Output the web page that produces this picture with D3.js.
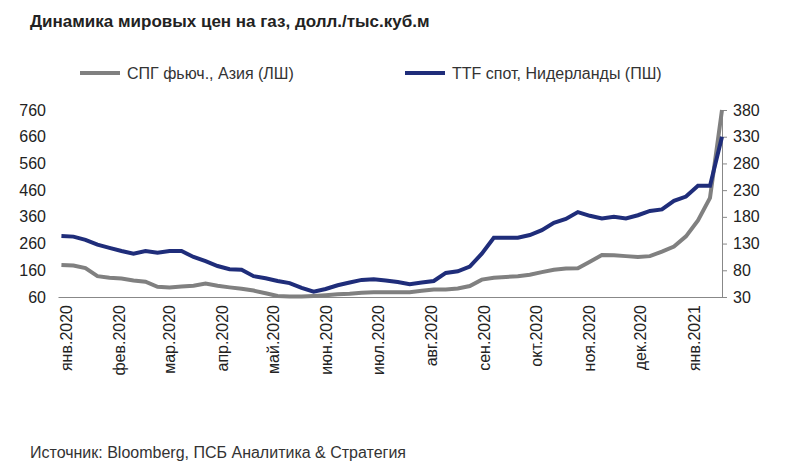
<!DOCTYPE html>
<html><head><meta charset="utf-8">
<script src="https://cdn.jsdelivr.net/npm/d3@7"></script>
<style>body{margin:0;background:#fff}text{font-family:"Liberation Sans",Arial,sans-serif}</style>
</head><body><svg id="c" width="800" height="475"></svg>
<script>
// weekly quotes, first week starting 3 Jan 2020
var lngAsia = [180,178,168,138,132,129,122,117,98,96,99,102,110,102,96,91,84,74,64,62,62,64,67,70,72,76,78,78,78,78,83,88,88,92,101,125,132,135,138,143,153,162,167,168,192,217,216,213,210,213,230,249,287,347,431,760];
var ttfSpot = [144,143,137,128,122,116,111,116,113,116,116,105,97,88,82,81,69,65,60,56,47,40,45,52,57,62,63,61,58,54,57,60,75,78,87,111,141,141,141,146,155,169,176,189,182,177,180,177,183,191,194,210,218,238,238,330];
var leftTicks = [60,160,260,360,460,560,660,760];
var rightTicks = [30,80,130,180,230,280,330,380];
var monthNames = ['янв.','фев.','мар.','апр.','май.','июн.','июл.','авг.','сен.','окт.','ноя.','дек.'];

var svg = d3.select('#c');
var plotL = 58, plotR = 722, plotT = 110, plotB = 297;
var start = new Date(2020,0,3);
var dates = lngAsia.map((d,i) => d3.timeDay.offset(start, 7*i));

var x = d3.scaleTime().domain([new Date(2020,0,1), dates[dates.length-1]]).range([plotL,plotR]);
var yL = d3.scaleLinear().domain([60,760]).range([plotB,plotT]);
var yR = d3.scaleLinear().domain([30,380]).range([plotB,plotT]);

svg.append('text').attr('x',30).attr('y',27).attr('font-size',17).attr('font-weight','bold')
  .attr('fill','#222').text('Динамика мировых цен на газ, долл./тыс.куб.м');

// legend
var legend = [['СПГ фьюч., Азия (ЛШ)','#808080',80],['TTF спот, Нидерланды (ПШ)','#1f2d7a',405]];
legend.forEach(l => {
  svg.append('line').attr('x1',l[2]).attr('x2',l[2]+40).attr('y1',73).attr('y2',73)
    .attr('stroke',l[1]).attr('stroke-width',4);
  svg.append('text').attr('x',l[2]+47).attr('y',79).attr('font-size',16).attr('fill','#333').text(l[0]);
});

// axes
var gl = svg.append('g').attr('transform',`translate(${plotL},0)`)
  .call(d3.axisLeft(yL).tickValues(leftTicks).tickSize(0).tickPadding(12));
gl.select('.domain').remove();
gl.selectAll('text').attr('font-size',16).attr('fill','#222');

var gr = svg.append('g').attr('transform',`translate(${plotR},0)`)
  .call(d3.axisRight(yR).tickValues(rightTicks).tickSize(5).tickPadding(6));
gr.selectAll('path,line').attr('stroke','#888');
gr.selectAll('text').attr('font-size',16).attr('fill','#222');

var months = d3.timeMonth.range(new Date(2020,0,1), new Date(2021,0,2));
var gx = svg.append('g').attr('transform',`translate(0,${plotB})`)
  .call(d3.axisBottom(x).tickValues(months).tickSize(0)
    .tickFormat(d => monthNames[d.getMonth()] + d.getFullYear()));
gx.select('.domain').attr('stroke','#888');
gx.selectAll('text').attr('font-size',16).attr('fill','#222')
  .attr('transform','rotate(-90)').attr('text-anchor','end')
  .attr('dx','-8').attr('dy','0.35em').attr('y',0).attr('x',0);
gx.selectAll('.tick').attr('transform', d => `translate(${x(d)+8},0)`);

// lines
svg.append('path').datum(lngAsia).attr('fill','none').attr('stroke','#808080').attr('stroke-width',4)
  .attr('d', d3.line().x((d,i) => x(dates[i])).y(d => yL(d)));
svg.append('path').datum(ttfSpot).attr('fill','none').attr('stroke','#1f2d7a').attr('stroke-width',4)
  .attr('d', d3.line().x((d,i) => x(dates[i])).y(d => yR(d)));

svg.append('text').attr('x',30).attr('y',458).attr('font-size',16).attr('fill','#333')
  .text('Источник: Bloomberg, ПСБ Аналитика & Стратегия');
</script></body></html>
